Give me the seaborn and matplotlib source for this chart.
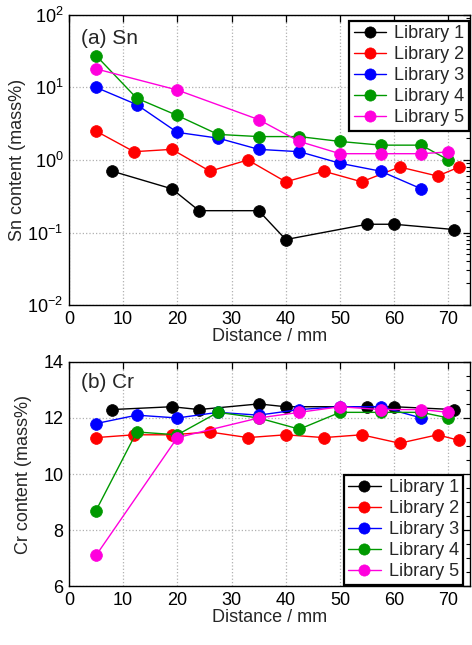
import matplotlib
matplotlib.use("Agg")
import matplotlib.pyplot as plt
import matplotlib.ticker as mticker
import seaborn as sns
import numpy as np

# ---- data ----
lib_names = ["Library 1", "Library 2", "Library 3", "Library 4", "Library 5"]
lib_colors = ["#000000", "#ff0000", "#0000ff", "#009900", "#ff00dd"]

x_lib1 = [8, 19, 24, 35, 40, 55, 60, 71]
x_lib2 = [5, 12, 19, 26, 33, 40, 47, 54, 61, 68, 72]
x_lib3 = [5, 12.5, 20, 27.5, 35, 42.5, 50, 57.5, 65]
x_lib4 = [5, 12.5, 20, 27.5, 35, 42.5, 50, 57.5, 65, 70]
x_lib5 = [5, 20, 35, 42.5, 50, 57.5, 65, 70]

sn_lib1 = [0.7, 0.4, 0.2, 0.2, 0.08, 0.13, 0.13, 0.11]
sn_lib2 = [2.5, 1.3, 1.4, 0.7, 1.0, 0.5, 0.7, 0.5, 0.8, 0.6, 0.8]
sn_lib3 = [10, 5.8, 2.4, 2.0, 1.4, 1.3, 0.9, 0.7, 0.4]
sn_lib4 = [27.5, 7.1, 4.1, 2.25, 2.1, 2.1, 1.8, 1.6, 1.6, 1.0]
sn_lib5 = [18, 9.2, 3.6, 1.8, 1.22, 1.22, 1.22, 1.29]

cr_lib1 = [12.3, 12.4, 12.3, 12.5, 12.4, 12.4, 12.4, 12.3]
cr_lib2 = [11.3, 11.4, 11.4, 11.5, 11.3, 11.4, 11.3, 11.4, 11.1, 11.4, 11.2]
cr_lib3 = [11.8, 12.1, 12.0, 12.2, 12.1, 12.3, 12.4, 12.4, 12.0]
cr_lib4 = [8.7, 11.5, 11.4, 12.2, 12.0, 11.6, 12.2, 12.2, 12.2, 12.0]
cr_lib5 = [7.1, 11.3, 12.0, 12.2, 12.4, 12.3, 12.3, 12.2]

xs = [x_lib1, x_lib2, x_lib3, x_lib4, x_lib5]
sns_ = [sn_lib1, sn_lib2, sn_lib3, sn_lib4, sn_lib5]
crs = [cr_lib1, cr_lib2, cr_lib3, cr_lib4, cr_lib5]

sns.set_style("white")
plt.rcParams["font.family"] = ["Liberation Sans", "DejaVu Sans"]
plt.rcParams["mathtext.fontset"] = "custom"
plt.rcParams["mathtext.rm"] = "Liberation Sans"
plt.rcParams["mathtext.it"] = "Liberation Sans:italic"

fig = plt.figure(figsize=(4.72, 6.45), dpi=100)
ax1 = fig.add_axes([0.146, 0.527, 0.850, 0.450])
ax2 = fig.add_axes([0.146, 0.091, 0.850, 0.348])

FS = 13

def style_axis(ax):
    for s in ax.spines.values():
        s.set_color("black")
        s.set_linewidth(1.0)
    ax.tick_params(which="both", direction="in", top=True, right=True,
                   labelsize=FS, colors="black", pad=4)
    ax.tick_params(which="major", length=5, width=0.9)
    ax.tick_params(which="minor", length=3, width=0.8)
    ax.grid(True, which="major", linestyle=":", color="#b0b0b0", linewidth=0.9)
    ax.set_axisbelow(True)
    ax.set_xlim(0, 74)
    ax.xaxis.set_major_locator(mticker.MultipleLocator(10))
    ax.set_xlabel("Distance / mm", fontsize=FS, labelpad=0)

for x, y, c, n in zip(xs, sns_, lib_colors, lib_names):
    sns.lineplot(x=x, y=y, ax=ax1, color=c, marker="o", markersize=8.5,
                 markeredgecolor=c, markeredgewidth=0.5, linewidth=1.0,
                 sort=False, label=n, estimator=None)
for x, y, c, n in zip(xs, crs, lib_colors, lib_names):
    sns.lineplot(x=x, y=y, ax=ax2, color=c, marker="o", markersize=8.5,
                 markeredgecolor=c, markeredgewidth=0.5, linewidth=1.0,
                 sort=False, label=n, estimator=None)

ax1.set_yscale("log")
ax1.set_ylim(1e-2, 1e2)
ax1.yaxis.set_major_locator(mticker.LogLocator(base=10, numticks=10))
ax1.yaxis.set_minor_locator(mticker.LogLocator(base=10, subs=np.arange(2, 10), numticks=10))
ax1.yaxis.set_minor_formatter(mticker.NullFormatter())
style_axis(ax1)
ax1.set_ylabel("Sn content (mass%)", fontsize=FS, labelpad=1)
ax1.text(0.03, 0.95, "(a) Sn", transform=ax1.transAxes, fontsize=15,
         va="top", ha="left")

ax2.set_ylim(6, 14)
ax2.yaxis.set_major_locator(mticker.MultipleLocator(2))
ax2.yaxis.set_minor_locator(mticker.MultipleLocator(0.5))
style_axis(ax2)
ax2.set_ylabel("Cr content (mass%)", fontsize=FS, labelpad=8)
ax2.text(0.03, 0.95, "(b) Cr", transform=ax2.transAxes, fontsize=15,
         va="top", ha="left")

for ax, loc, anchor in [(ax1, "upper right", (0.997, 0.979)),
                        (ax2, "lower right", (0.983, 0.008))]:
    leg = ax.legend(loc=loc, bbox_to_anchor=anchor, fontsize=FS, frameon=True,
                    fancybox=False, framealpha=1, edgecolor="black",
                    borderpad=0.25, labelspacing=0.22, handlelength=1.8,
                    handletextpad=0.45, borderaxespad=0, markerscale=0.95)
    leg.get_frame().set_linewidth(1.6)

fig.savefig("out.png", dpi=100)
